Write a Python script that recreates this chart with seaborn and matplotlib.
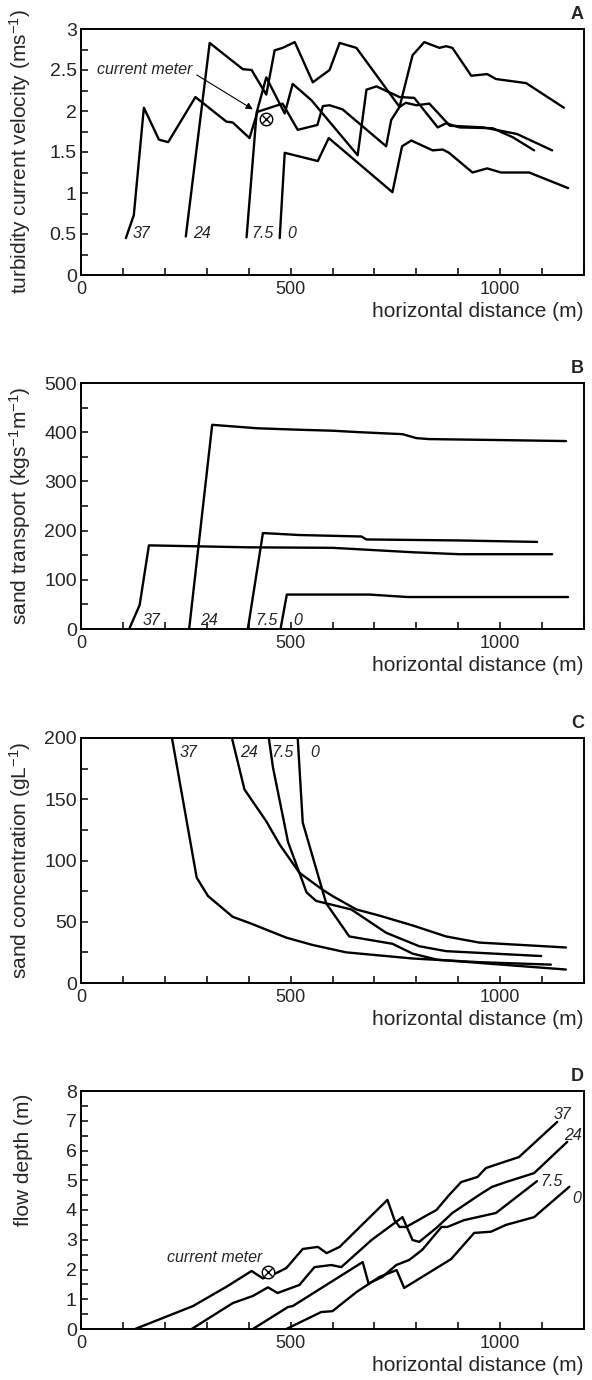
import matplotlib
matplotlib.use('Agg')
import matplotlib.pyplot as plt
from matplotlib.ticker import MultipleLocator, FuncFormatter
import seaborn as sns

# run labels (minutes)
runs = ['37', '24', '7.5', '0']

# A: turbidity current velocity (m/s)
vel_x_37 = [107, 126, 150, 186, 208, 273, 347, 362, 402, 421, 481, 517, 564, 577, 593, 624, 728, 740, 760, 775, 800, 831, 880, 960, 1040, 1124]
vel_y_37 = [0.45, 0.73, 2.04, 1.65, 1.62, 2.17, 1.87, 1.86, 1.67, 1.99, 2.09, 1.77, 1.83, 2.06, 2.07, 2.02, 1.57, 1.89, 2.05, 2.10, 2.07, 2.09, 1.82, 1.80, 1.72, 1.52]
vel_x_24 = [250, 307, 386, 407, 442, 462, 481, 510, 553, 593, 617, 657, 760, 791, 819, 855, 871, 886, 931, 969, 990, 1062, 1152]
vel_y_24 = [0.47, 2.83, 2.51, 2.50, 2.20, 2.74, 2.77, 2.84, 2.35, 2.50, 2.83, 2.77, 2.05, 2.68, 2.84, 2.77, 2.79, 2.77, 2.43, 2.45, 2.39, 2.34, 2.04]
vel_x_75 = [395, 419, 442, 486, 505, 550, 660, 681, 705, 760, 795, 851, 871, 903, 982, 1030, 1081]
vel_y_75 = [0.46, 1.98, 2.41, 1.97, 2.33, 2.13, 1.46, 2.26, 2.30, 2.17, 2.16, 1.80, 1.85, 1.80, 1.79, 1.68, 1.52]
vel_x_0 = [474, 486, 565, 591, 743, 766, 788, 839, 863, 878, 934, 969, 1002, 1069, 1162]
vel_y_0 = [0.45, 1.49, 1.39, 1.67, 1.01, 1.57, 1.64, 1.52, 1.53, 1.49, 1.25, 1.30, 1.25, 1.25, 1.06]

# B: sand transport (kg/s/m)
sand_x_37 = [115, 140, 162, 400, 600, 791, 903, 1124]
sand_y_37 = [0, 49, 170, 166, 165, 156, 152, 152]
sand_x_24 = [258, 313, 420, 521, 600, 665, 767, 800, 830, 1000, 1157]
sand_y_24 = [0, 415, 408, 405, 403, 400, 396, 388, 386, 384, 382]
sand_x_75 = [398, 434, 521, 669, 681, 900, 1088]
sand_y_75 = [0, 195, 191, 188, 182, 180, 177]
sand_x_0 = [476, 491, 688, 779, 1162]
sand_y_0 = [0, 70, 70, 65, 65]

# C: sand concentration (g/L)
conc_x_37 = [217, 276, 303, 362, 402, 490, 553, 633, 791, 950, 1121]
conc_y_37 = [200, 86, 71, 54, 49, 37, 31, 25, 20, 17, 15]
conc_x_24 = [360, 390, 442, 474, 521, 577, 600, 657, 712, 791, 871, 950, 1157]
conc_y_24 = [200, 158, 132, 113, 90, 76, 71, 60, 55, 47, 38, 33, 29]
conc_x_75 = [448, 458, 494, 521, 538, 561, 645, 728, 807, 871, 1098]
conc_y_75 = [200, 176, 115, 90, 74, 67, 60, 41, 30, 26, 22]
conc_x_0 = [517, 529, 585, 640, 743, 791, 850, 1157]
conc_y_0 = [200, 131, 65, 38, 32, 24, 19, 11]

# D: flow depth (m)
depth_x_37 = [129, 267, 347, 407, 434, 466, 490, 529, 565, 586, 617, 731, 748, 760, 776, 826, 848, 878, 907, 946, 966, 1002, 1045, 1136]
depth_y_37 = [0, 0.77, 1.42, 1.95, 1.70, 1.88, 2.05, 2.69, 2.76, 2.55, 2.76, 4.34, 3.66, 3.43, 3.43, 3.83, 4.00, 4.50, 4.94, 5.11, 5.41, 5.58, 5.78, 6.96]
depth_x_24 = [264, 362, 410, 446, 469, 521, 557, 597, 621, 693, 767, 791, 807, 848, 886, 943, 957, 981, 1014, 1081, 1160]
depth_y_24 = [0, 0.87, 1.11, 1.40, 1.21, 1.48, 2.08, 2.15, 2.08, 2.99, 3.76, 2.99, 2.93, 3.40, 3.90, 4.44, 4.57, 4.78, 4.94, 5.24, 6.29]
depth_x_75 = [410, 494, 505, 672, 686, 719, 752, 783, 814, 860, 874, 914, 990, 1088]
depth_y_75 = [0, 0.74, 0.77, 2.25, 1.53, 1.75, 2.15, 2.32, 2.66, 3.43, 3.43, 3.66, 3.90, 4.97]
depth_x_0 = [490, 573, 600, 657, 712, 753, 771, 883, 938, 978, 1014, 1081, 1165]
depth_y_0 = [0, 0.57, 0.60, 1.24, 1.75, 1.98, 1.38, 2.35, 3.23, 3.27, 3.50, 3.76, 4.78]

# run label positions (x, y) per panel
lab_vel = [(124, 0.5), (267, 0.5), (407, 0.5), (491, 0.5)]
lab_sand = [(148, 18), (283, 18), (415, 18), (506, 18)]
lab_conc = [(236, 188), (379, 188), (455, 188), (546, 188)]
lab_depth = [(1128, 7.2), (1152, 6.52), (1097, 4.97), (1172, 4.4)]

# current meter location
meter_vel = (442, 1.9)
meter_depth = (446, 1.92)

sns.set_theme(style='ticks')
plt.rcParams['font.family'] = ['Liberation Sans', 'DejaVu Sans']
plt.rcParams['mathtext.fontset'] = 'custom'
plt.rcParams['mathtext.rm'] = 'Liberation Sans'
plt.rcParams['mathtext.it'] = 'Liberation Sans:italic'

fig = plt.figure(figsize=(5.92, 13.8), dpi=100)
fig.patch.set_facecolor('white')

# axes boxes in pixels: top, bottom
boxes = [(29, 275), (383, 629), (738, 983), (1091, 1329)]
axes = []
for top, bot in boxes:
    ax = fig.add_axes([81 / 592, 1 - bot / 1380, 503 / 592, (bot - top) / 1380])
    ax.set_facecolor('white')
    axes.append(ax)


def draw_runs(ax, xs_list, ys_list):
    for xs, ys in zip(xs_list, ys_list):
        sns.lineplot(x=xs, y=ys, ax=ax, color='black', linewidth=1.7,
                     sort=False, estimator=None)


def style_axes(ax, ymax, ymajor, yminor, letter, ylabel, height_px, label_y=0.5):
    ax.set_xlim(0, 1200)
    ax.set_ylim(0, ymax)
    ax.xaxis.set_major_locator(MultipleLocator(500))
    ax.xaxis.set_minor_locator(MultipleLocator(100))
    ax.yaxis.set_major_locator(MultipleLocator(ymajor))
    ax.yaxis.set_minor_locator(MultipleLocator(yminor))
    ax.yaxis.set_major_formatter(FuncFormatter(lambda v, p: f'{v:g}'))
    ax.tick_params(which='both', direction='in', length=5, width=1.1,
                   top=False, right=False, color='black')
    ax.tick_params(axis='x', which='major', pad=4, labelsize=13)
    ax.tick_params(axis='y', which='major', pad=3, labelsize=14)
    for lab in ax.get_xticklabels():
        lab.set_family(['Liberation Sans Narrow', 'Liberation Sans'])
    for s in ax.spines.values():
        s.set_visible(True)
        s.set_linewidth(1.4)
        s.set_color('black')
    ax.set_xlabel('horizontal distance (m)', fontsize=15, ha='right')
    ax.xaxis.set_label_coords(1.0, -27 / height_px)
    ax.set_ylabel(ylabel, fontsize=15)
    ax.yaxis.set_label_coords(-0.095, label_y)
    ax.text(1.0, 1.025, letter, transform=ax.transAxes, ha='right', va='bottom',
            fontsize=13, fontweight='bold')


def run_labels(ax, positions, ha='left'):
    for name, (x, y) in zip(runs, positions):
        ax.text(x, y, name, fontsize=11.5, style='italic', ha=ha, va='center')


def meter_mark(ax, xy):
    ax.plot(*xy, marker='o', ms=9, mfc='white', mec='black', mew=1.0, zorder=5)
    ax.plot(*xy, marker='x', ms=6, mec='black', mew=1.0, zorder=6)


# A
ax = axes[0]
draw_runs(ax, [vel_x_37, vel_x_24, vel_x_75, vel_x_0], [vel_y_37, vel_y_24, vel_y_75, vel_y_0])
style_axes(ax, 3, 0.5, 0.25, 'A', 'turbidity current velocity (ms$^{-1}$)', 246)
run_labels(ax, lab_vel)
meter_mark(ax, meter_vel)
ax.text(38, 2.5, 'current meter', fontsize=11.5, style='italic', va='center')
ax.annotate('', xy=(410, 2.02), xytext=(276, 2.44),
            arrowprops=dict(arrowstyle='-|>', color='black', lw=0.8,
                            mutation_scale=10, shrinkA=0, shrinkB=0))

# B
ax = axes[1]
draw_runs(ax, [sand_x_37, sand_x_24, sand_x_75, sand_x_0], [sand_y_37, sand_y_24, sand_y_75, sand_y_0])
style_axes(ax, 500, 100, 50, 'B', 'sand transport (kgs$^{-1}$m$^{-1}$)', 246)
run_labels(ax, lab_sand)

# C
ax = axes[2]
draw_runs(ax, [conc_x_37, conc_x_24, conc_x_75, conc_x_0], [conc_y_37, conc_y_24, conc_y_75, conc_y_0])
style_axes(ax, 200, 50, 25, 'C', 'sand concentration (gL$^{-1}$)', 245)
run_labels(ax, lab_conc)

# D
ax = axes[3]
draw_runs(ax, [depth_x_37, depth_x_24, depth_x_75, depth_x_0], [depth_y_37, depth_y_24, depth_y_75, depth_y_0])
style_axes(ax, 8, 1, 0.5, 'D', 'flow depth (m)', 238, label_y=0.71)
run_labels(ax, lab_depth)
meter_mark(ax, meter_depth)
ax.text(205, 2.4, 'current meter', fontsize=11.5, style='italic', va='center')

fig.savefig('out.png', dpi=100, facecolor='white')
